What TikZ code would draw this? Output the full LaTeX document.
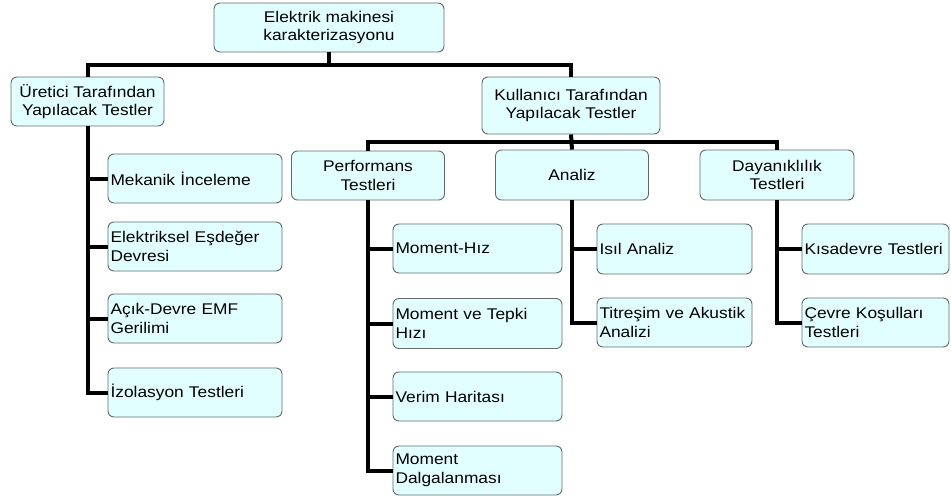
\documentclass[tikz,border=0pt]{standalone}
\usepackage{fontspec}
\setmainfont[FakeStretch=1.12]{Liberation Sans}
\definecolor{boxfill}{RGB}{226,255,255}
\definecolor{boxline}{RGB}{100,105,105}
\begin{document}
\begin{tikzpicture}[x=1pt,y=-1pt,
  box/.style={draw=boxline, fill=boxfill, line width=0.9pt, rounded corners=6pt,
    font=\fontsize{15.5}{18.5}\selectfont, inner xsep=2.5pt, inner ysep=0pt, text=black},
  cbox/.style={box, align=center},
  leaf/.style={box, align=left},
  conn/.style={line width=4pt, black}]
\useasboundingbox (0,0) rectangle (951,501);
% top
\node[cbox, minimum width=230pt, minimum height=49pt] (root) at (329,27.5) {Elektrik makinesi\\karakterizasyonu};
\node[cbox, minimum width=153pt, minimum height=49pt] (ur) at (87.5,101.5) {Üretici Tarafından\\Yapılacak Testler};
\node[cbox, minimum width=178pt, minimum height=57pt] (ku) at (571,105.5) {Kullanıcı Tarafından\\Yapılacak Testler};
\node[cbox, minimum width=153pt, minimum height=49pt] (perf) at (368,175.5) {Performans\\Testleri};
\node[cbox, minimum width=153pt, minimum height=50pt] (an) at (572,175) {Analiz};
\node[cbox, minimum width=154pt, minimum height=50pt] (day) at (777,175) {Dayanıklılık\\Testleri};
% Uretici leaves
\node[leaf, text width=169pt, minimum height=49pt] (mek) at (195,178.5) {Mekanik İnceleme};
\node[leaf, text width=169pt, minimum height=49pt] (ele) at (195,246.5) {Elektriksel Eşdeğer\\Devresi};
\node[leaf, text width=169pt, minimum height=49pt] (acik) at (195,318.5) {Açık-Devre EMF\\Gerilimi};
\node[leaf, text width=169pt, minimum height=49pt] (izo) at (195,392.5) {İzolasyon Testleri};
% Performans leaves
\node[leaf, text width=164pt, minimum height=49pt] (mh) at (477.5,248.5) {Moment-Hız};
\node[leaf, text width=164pt, minimum height=50pt] (mt) at (477.5,323.5) {Moment ve Tepki\\Hızı};
\node[leaf, text width=164pt, minimum height=49pt] (vh) at (477.5,396.5) {Verim Haritası};
\node[leaf, text width=164pt, minimum height=49pt] (md) at (477.5,470.5) {Moment\\Dalgalanması};
% Analiz leaves
\node[leaf, text width=150pt, minimum height=50pt] (isil) at (674.5,249) {Isıl Analiz};
\node[leaf, text width=150pt, minimum height=49pt] (tit) at (674.5,322.5) {Titreşim ve Akustik\\Analizi};
% Dayaniklilik leaves
\node[leaf, text width=142pt, minimum height=50pt] (kisa) at (875.5,249) {Kısadevre Testleri};
\node[leaf, text width=142pt, minimum height=49pt] (cevre) at (875.5,322.5) {Çevre Koşulları\\Testleri};
% connectors
\coordinate (j1) at (329,65);
\coordinate (j2) at (572,142);
\draw[conn] (root.south) -- (j1);
\draw[conn] (ur.north) |- (j1) -| (ku.north);
\draw[conn] (ku.south) -- (an.north);
\draw[conn] (perf.north) |- (j2) -| (day.north);
\draw[conn] (ur.south) |- (izo.west);
\draw[conn] (ur.south |- mek.west) -- (mek.west);
\draw[conn] (ur.south |- ele.west) -- (ele.west);
\draw[conn] (ur.south |- acik.west) -- (acik.west);
\draw[conn] (perf.south) |- (md.west);
\draw[conn] (perf.south |- mh.west) -- (mh.west);
\draw[conn] (perf.south |- mt.west) -- (mt.west);
\draw[conn] (perf.south |- vh.west) -- (vh.west);
\draw[conn] (an.south) |- (tit.west);
\draw[conn] (an.south |- isil.west) -- (isil.west);
\draw[conn] (day.south) |- (cevre.west);
\draw[conn] (day.south |- kisa.west) -- (kisa.west);
\end{tikzpicture}
\end{document}
